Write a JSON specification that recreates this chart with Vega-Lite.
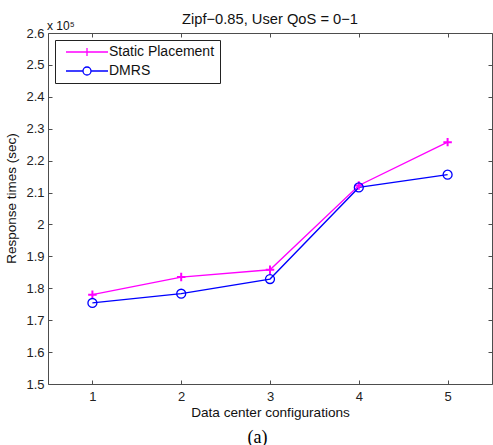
{
  "$schema": "https://vega.github.io/schema/vega-lite/v6.json",
  "width": 444,
  "height": 351,
  "autosize": {"type": "none"},
  "padding": {"left": 48, "top": 33, "right": 1, "bottom": 61},
  "background": "white",
  "config": {
    "view": {"stroke": null},
    "font": "Liberation Sans",
    "axis": {
      "grid": false,
      "domainColor": "#4d4d4d",
      "domainWidth": 1,
      "tickColor": "#4d4d4d",
      "tickSize": -4,
      "labelFont": "Liberation Sans",
      "labelFontSize": 13,
      "labelColor": "#222222",
      "titleFont": "Liberation Sans",
      "titleFontWeight": "normal",
      "titleColor": "#111111"
    }
  },
  "title": {
    "text": "Zipf−0.85, User QoS = 0−1",
    "fontSize": 14.7,
    "fontWeight": "normal",
    "color": "#111111",
    "font": "Liberation Sans",
    "anchor": "middle",
    "frame": "group",
    "offset": 0,
    "dy": 8
  },
  "data": {
    "values": [
      {"config": 1, "series": "Static Placement", "value": 178000},
      {"config": 2, "series": "Static Placement", "value": 183500},
      {"config": 3, "series": "Static Placement", "value": 185800},
      {"config": 4, "series": "Static Placement", "value": 212200},
      {"config": 5, "series": "Static Placement", "value": 225800},
      {"config": 1, "series": "DMRS", "value": 175400},
      {"config": 2, "series": "DMRS", "value": 178300},
      {"config": 3, "series": "DMRS", "value": 182900},
      {"config": 4, "series": "DMRS", "value": 211600},
      {"config": 5, "series": "DMRS", "value": 215600}
    ]
  },
  "layer": [
    {
      "mark": {"type": "line", "strokeWidth": 1.3},
      "encoding": {
        "x": {
          "field": "config", "type": "quantitative",
          "scale": {"domain": [0.5, 5.5], "nice": false, "zero": false},
          "axis": {
            "orient": "bottom",
            "values": [1, 2, 3, 4, 5],
            "labelPadding": 10,
            "title": "Data center configurations",
            "titleFontSize": 13.6,
            "titleX": 222,
            "titleY": 28,
            "titleBaseline": "middle",
            "titleAlign": "center"
          }
        },
        "y": {
          "field": "value", "type": "quantitative",
          "scale": {"domain": [150000, 260000], "nice": false, "zero": false},
          "axis": {
            "orient": "left",
            "values": [150000, 160000, 170000, 180000, 190000, 200000, 210000, 220000, 230000, 240000, 250000, 260000],
            "labelExpr": "format(datum.value / 100000, '.1~f')",
            "labelPadding": 8,
            "title": "Response times (sec)",
            "titleFontSize": 13.5,
            "titleX": -37,
            "titleY": 165,
            "titleAngle": -90,
            "titleBaseline": "middle",
            "titleAlign": "center"
          }
        },
        "color": {
          "field": "series", "type": "nominal",
          "scale": {"domain": ["Static Placement", "DMRS"], "range": ["#FF00FF", "#0000FF"]},
          "legend": {
            "orient": "none",
            "legendX": 7,
            "legendY": 7,
            "title": null,
            "padding": 5,
            "rowPadding": 5,
            "symbolType": "M-5.25,0H5.25",
            "symbolSize": 64,
            "symbolStrokeWidth": 1.3,
            "symbolOffset": 20,
            "labelOffset": 15,
            "labelFontSize": 14,
            "labelColor": "#111111",
            "labelFont": "Liberation Sans",
            "strokeColor": "#222222",
            "fillColor": "white",
            "encode": {
              "symbols": {
                "update": {
                  "shape": {"signal": "datum.value === 'DMRS' ? 'M-5.25,0H-1M1,0H5.25M-1,0A1,1 0 1,0 1,0A1,1 0 1,0 -1,0' : 'M-5.25,0H5.25M0,-1V1'"}
                }
              }
            }
          }
        }
      }
    },
    {
      "transform": [{"filter": "datum.series === 'Static Placement'"}],
      "mark": {"type": "point", "filled": false, "strokeWidth": 2, "size": 72, "opacity": 1, "color": "#FF00FF", "shape": "M-1,0H1M0,-1V1"},
      "encoding": {
        "x": {"field": "config", "type": "quantitative", "axis": null},
        "y": {"field": "value", "type": "quantitative", "axis": null}
      }
    },
    {
      "transform": [{"filter": "datum.series === 'DMRS'"}],
      "mark": {"type": "point", "filled": false, "strokeWidth": 1.3, "size": 80, "opacity": 1, "color": "#0000FF", "shape": "circle"},
      "encoding": {
        "x": {"field": "config", "type": "quantitative", "axis": null},
        "y": {"field": "value", "type": "quantitative", "axis": null}
      }
    },
    {
      "mark": {"type": "point", "opacity": 0},
      "encoding": {
        "x": {
          "field": "config", "type": "quantitative",
          "axis": {
            "orient": "top",
            "values": [1, 2, 3, 4, 5],
            "labels": false,
            "title": "x 10⁵",
            "titleFontSize": 12,
            "titleX": -1.5,
            "titleY": -4,
            "titleAlign": "left",
            "titleBaseline": "alphabetic",
            "titleAngle": 0
          }
        },
        "y": {
          "field": "value", "type": "quantitative",
          "axis": {
            "orient": "right",
            "values": [150000, 160000, 170000, 180000, 190000, 200000, 210000, 220000, 230000, 240000, 250000, 260000],
            "labels": false,
            "title": "(a)",
            "titleFont": "Liberation Serif",
            "titleFontSize": 18,
            "titleColor": "#000000",
            "titleX": -235,
            "titleY": 404,
            "titleAngle": 0,
            "titleAlign": "center",
            "titleBaseline": "middle"
          }
        }
      }
    }
  ],
  "resolve": {"axis": {"x": "independent", "y": "independent"}}
}
